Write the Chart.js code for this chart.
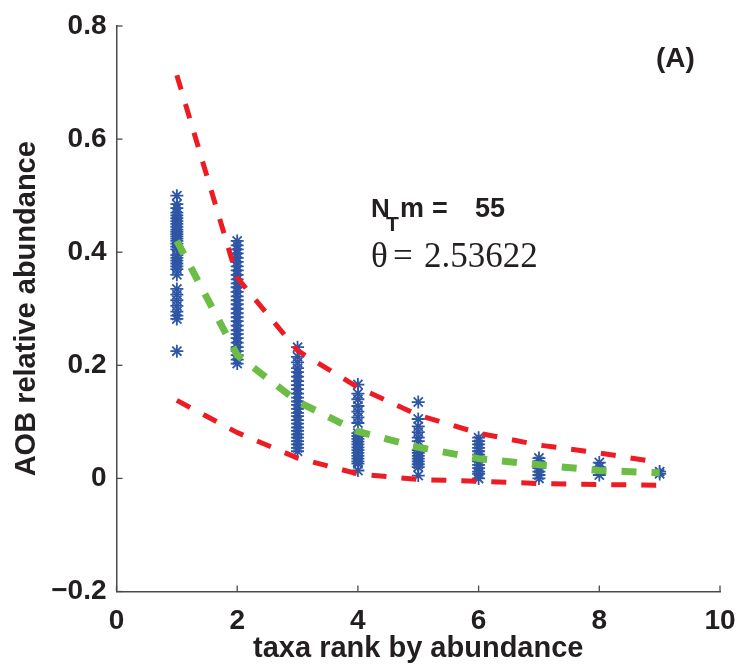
<!DOCTYPE html>
<html><head><meta charset="utf-8">
<script src="https://cdn.jsdelivr.net/npm/chart.js@4.4.1/dist/chart.umd.min.js"></script>
<style>html,body{margin:0;padding:0;background:#fff;}#wrap{width:741px;height:672px;}</style>
</head><body><div id="wrap"><canvas id="c" width="741" height="672"></canvas></div>
<script>
const ranks = [1,2,3,4,5,6,7,8,9];
const upperBound = [0.713,0.355,0.226,0.161,0.112,0.080,0.059,0.045,0.028];
const lowerBound = [0.138,0.081,0.036,0.008,-0.002,-0.005,-0.009,-0.011,-0.012];
const meanFit    = [0.420,0.218,0.136,0.083,0.055,0.035,0.024,0.014,0.010];
const obsRank1 = [0.50,0.485,0.478,0.47,0.465,0.46,0.455,0.45,0.445,0.44,0.436,0.432,0.428,0.424,0.42,0.415,0.41,0.405,0.395,0.39,0.385,0.38,0.375,0.37,0.36,0.335,0.325,0.315,0.305,0.295,0.288,0.282,0.225];
const obsRank2 = [0.42,0.412,0.405,0.398,0.39,0.383,0.375,0.368,0.36,0.352,0.345,0.338,0.33,0.322,0.315,0.308,0.30,0.292,0.285,0.278,0.27,0.262,0.255,0.248,0.24,0.232,0.225,0.218,0.21,0.203];
const obsRank3 = [0.232,0.215,0.205,0.195,0.188,0.18,0.172,0.165,0.158,0.15,0.143,0.136,0.13,0.123,0.116,0.11,0.103,0.097,0.09,0.084,0.078,0.072,0.066,0.06,0.054,0.048];
const obsRank4 = [0.166,0.15,0.14,0.128,0.118,0.108,0.098,0.08,0.075,0.07,0.065,0.06,0.055,0.05,0.045,0.04,0.035,0.03,0.026,0.014];
const obsRank5 = [0.135,0.105,0.092,0.082,0.072,0.066,0.05,0.045,0.04,0.035,0.03,0.025,0.02,0.005];
const obsRank6 = [0.072,0.066,0.06,0.054,0.048,0.042,0.036,0.03,0.024,0.018,0.012,0.008,0.0];
const obsRank7 = [0.036,0.03,0.024,0.018,0.012,0.006,0.0];
const obsRank8 = [0.028,0.02,0.013,0.006];
const obsRank9 = [0.012,0.008];
const xTicks = [0,2,4,6,8,10];
const yTicks = [-0.2,0,0.2,0.4,0.6,0.8];
const xTitle = 'taxa rank by abundance';
const yTitle = 'AOB relative abundance';
const panelLabel = '(A)';
const ntmLabel = ['N','T','m','=','55'];
const thetaLabel = ['\u03b8','=','2.53622'];

const obsByRank = [obsRank1,obsRank2,obsRank3,obsRank4,obsRank5,obsRank6,obsRank7,obsRank8,obsRank9];
const obsPoints = obsByRank.flatMap((vals,i)=>vals.map(v=>({x:ranks[i],y:v})));
const toXY = arr => arr.map((v,i)=>({x:ranks[i],y:v}));

const TXT = '#231f20';
const AX = '#4a4a4a';

const inwardTicks = {
  id:'inwardTicks',
  afterDraw(chart){
    const ctx = chart.ctx, xs = chart.scales.x, ys = chart.scales.y;
    ctx.save();
    ctx.strokeStyle = AX; ctx.lineWidth = 1.3;
    xTicks.forEach(v=>{const p=xs.getPixelForValue(v);ctx.beginPath();ctx.moveTo(p,ys.bottom);ctx.lineTo(p,ys.bottom-6);ctx.stroke();});
    yTicks.forEach(v=>{const p=ys.getPixelForValue(v);ctx.beginPath();ctx.moveTo(xs.left,p);ctx.lineTo(xs.left+6,p);ctx.stroke();});
    ctx.restore();
  }
};

const annotations = {
  id:'annotations',
  afterDraw(chart){
    const ctx = chart.ctx;
    ctx.save();
    ctx.fillStyle = TXT;
    ctx.textBaseline = 'alphabetic';
    ctx.textAlign = 'left';
    ctx.font = 'bold 28px "Liberation Sans", Arial, sans-serif';
    ctx.fillText(panelLabel, 656, 67);
    ctx.font = 'bold 26px "Liberation Sans", Arial, sans-serif';
    ctx.fillText(ntmLabel[0], 371, 217);
    ctx.font = 'bold 21px "Liberation Sans", Arial, sans-serif';
    ctx.fillText(ntmLabel[1], 386, 231);
    ctx.font = 'bold 27px "Liberation Sans", Arial, sans-serif';
    ctx.fillText(ntmLabel[2], 400, 217);
    ctx.fillText(ntmLabel[3], 432, 217);
    ctx.fillText(ntmLabel[4], 475, 217);
    ctx.font = '35px "Liberation Serif", "Times New Roman", serif';
    ctx.fillText(thetaLabel[0], 371, 267);
    ctx.fillText(thetaLabel[1], 393, 267);
    ctx.fillText(thetaLabel[2], 424, 267);
    ctx.restore();
  }
};

const tickFont = {family:'"Liberation Sans", Arial, sans-serif', size:28, weight:'bold'};
const titleFont = {family:'"Liberation Sans", Arial, sans-serif', size:29, weight:'bold'};

new Chart(document.getElementById('c'), {
  type:'scatter',
  data:{datasets:[
    {type:'line', data:toXY(meanFit), borderColor:'#6cbd45', borderWidth:7, borderDash:[15,15], pointRadius:0, tension:0, fill:false, borderCapStyle:'butt'},
    {type:'line', data:toXY(upperBound), borderColor:'#ed1c24', borderWidth:5, borderDash:[15,15], pointRadius:0, tension:0, fill:false, borderCapStyle:'butt'},
    {type:'line', data:toXY(lowerBound), borderColor:'#ed1c24', borderWidth:5, borderDash:[15,15], pointRadius:0, tension:0, fill:false, borderCapStyle:'butt'},
    {data:obsPoints, pointStyle:'star', pointRadius:6.5, pointBorderWidth:1.8, borderColor:'#2f56a5', backgroundColor:'#2f56a5', pointHoverRadius:6.5}
  ]},
  options:{
    responsive:false, animation:false, devicePixelRatio:1,
    layout:{padding:{top:26,right:21,left:0,bottom:0}},
    plugins:{legend:{display:false}, tooltip:{enabled:false}},
    scales:{
      x:{type:'linear', min:0, max:10,
        afterBuildTicks:s=>{s.ticks = xTicks.map(v=>({value:v}));},
        afterFit:s=>{s.height = 80.5; s.paddingLeft = 0; s.paddingRight = 0;},
        ticks:{font:tickFont, color:TXT, padding:13, callback:v=>String(v)},
        grid:{display:false, drawTicks:false},
        border:{display:true, color:AX, width:1.5},
        title:{display:true, text:xTitle, font:titleFont, color:TXT, padding:{top:0,bottom:6}}
      },
      y:{type:'linear', min:-0.2, max:0.8,
        afterBuildTicks:s=>{s.ticks = yTicks.map(v=>({value:v}));},
        afterFit:s=>{s.width = 116.5; s.paddingTop = 0; s.paddingBottom = 0;},
        ticks:{font:tickFont, color:TXT, padding:10, callback:v=>v===0?'0':(v<0?'\u2212'+Math.abs(v).toFixed(1):v.toFixed(1))},
        grid:{display:false, drawTicks:false},
        border:{display:true, color:AX, width:1.5},
        title:{display:true, text:yTitle, font:titleFont, color:TXT, padding:{top:10,bottom:0}}
      }
    }
  },
  plugins:[inwardTicks, annotations]
});
</script>
</body></html>
